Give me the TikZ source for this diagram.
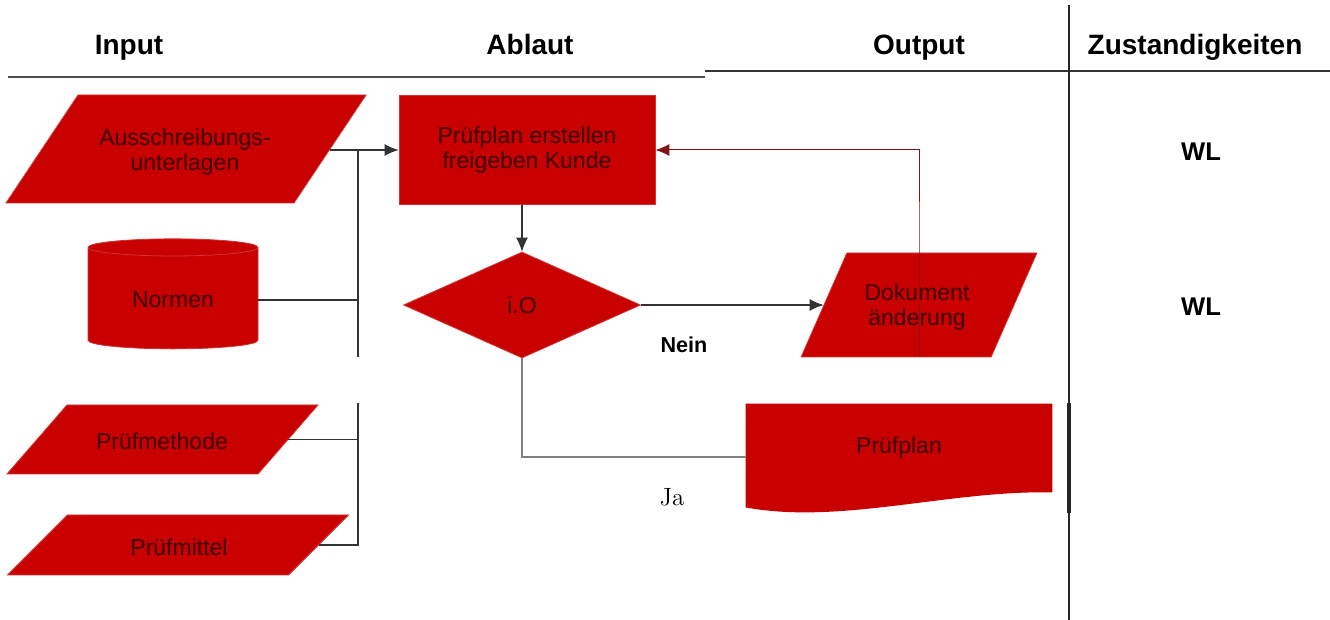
\documentclass[tikz,border=0pt]{standalone}
\usepackage{fontspec}
\setsansfont{Liberation Sans}
\usetikzlibrary{shapes.geometric,arrows.meta,positioning,calc,backgrounds}
\usepackage{xcolor}
\definecolor{boxred}{RGB}{200,0,0}
\definecolor{boxtext}{RGB}{60,0,0}
\definecolor{backred}{RGB}{130,20,20}

\begin{document}
\begin{tikzpicture}[
    x=0.5pt, y=-0.5pt,
    head/.style={anchor=base, font=\sffamily\bfseries\fontsize{14}{16}\selectfont},
    lbl/.style={font=\sffamily\bfseries\fontsize{10.8}{12}\selectfont},
    redtext/.style={text=boxtext, align=center, font=\sffamily\fontsize{11.5}{12.5}\selectfont},
    para/.style={rectangle, fill=boxred, draw=boxred!80!white, inner sep=0pt},
    act/.style={redtext, rectangle, fill=boxred, draw=boxred!80!white},
    link/.style={line width=0.6pt, draw=black!80},
    tip/.style={-{Latex[length=7pt,width=6pt]}}
]
    \useasboundingbox (0,0) rectangle (1330,620);

    % Lane headers
    \node[head] (h1) at (129,55) {Input};
    \node[head] (h2) at (530,55) {Ablaut};
    \node[head] (h3) at (919,55) {Output};
    \node[head] (h4) at (1195,55) {Zustandigkeiten};

    \draw[line width=1pt, black!70] (8,77) -- (705,77);
    \draw[line width=1pt, black!80] (705,71) -- (1330,71);
    \draw[line width=0.9pt, black!85] (1069,5) -- (1069,620);
    \draw[line width=1.6pt, black!85] (1069,403) -- (1069,513);

    % Input
    \node[para, xslant=0.667, minimum width=144pt, minimum height=54pt] (aus) at (186,149) {};
    \node[redtext] (austxt) at (185,152) {Ausschreibungs-\\unterlagen};
    \node[redtext, cylinder, shape border rotate=90, aspect=0.18, fill=boxred, draw=boxred!80!white,
          minimum width=85pt, minimum height=55pt] (norm) at (173,300) {Normen};
    \node[para, xslant=0.87, minimum width=125.5pt, minimum height=34.5pt] (meth) at (162.5,439.5) {};
    \node[redtext] (methtxt) at (162,441) {Pr\"ufmethode};
    \node[para, xslant=1, minimum width=140.5pt, minimum height=30pt] (mitt) at (178,545) {};
    \node[redtext] (mitttxt) at (179,547) {Pr\"ufmittel};

    % Ablauf
    \node[act, minimum width=128pt, minimum height=54.5pt] (plan) at (527,150) {Pr\"ufplan erstellen\\freigeben Kunde};
    \node[redtext, diamond, fill=boxred, draw=boxred!80!white, aspect=2.25,
          minimum width=118.5pt, minimum height=53pt, inner sep=0pt] (dia) at (522,305) {i.O};

    % Output
    \node[para, xslant=0.44, minimum width=95pt, minimum height=52pt] (dok) at (919,305) {};
    \node[redtext] (doktxt) at (917,307) {Dokument\\\"anderung};
    \node[redtext, rectangle, minimum width=153pt, minimum height=44pt] (out) at (899,448) {Pr\"ufplan};
    \begin{scope}[on background layer]
        \fill[boxred] (out.north west) -- (out.north east) -- (out.south east)
            .. controls (950,490) and (840,525) .. ($(out.south west)+(0,15)$) -- cycle;
    \end{scope}

    % Zustaendigkeiten
    \node[lbl, font=\sffamily\bfseries\fontsize{12.8}{14}\selectfont] (wl1) at (1201,152) {WL};
    \node[lbl, font=\sffamily\bfseries\fontsize{12.8}{14}\selectfont] (wl2) at (1201,307) {WL};

    % Connectors
    \coordinate (bustop) at (358,357);
    \coordinate (bus) at (358,403);
    \draw[link, tip] (aus.east |- plan.west) -- (plan.west);
    \draw[link] (bustop) -- (bustop |- plan.west);
    \draw[link] (norm.east) -- (norm.east -| bustop);
    \draw[link] (meth.east) -| (bus);
    \draw[link] (mitt.east) -| (bus);
    \draw[link, tip] (plan.south -| dia.north) -- (dia.north);
    \draw[link, tip] (dia.east) -- (dok.west);
    \node[lbl] (nein) at (684,345) {Nein};
    \draw[line width=0.5pt, backred, tip] (dok.south -| dok.center) -- (dok.north -| dok.center) |- (plan.east);
    \draw[line width=0.9pt, black!50] (dia.south) |- ($(out.west)+(0,9)$);
    \node[font=\rmfamily\fontsize{12.5}{14}\selectfont] (ja) at (672,497) {Ja};
\end{tikzpicture}
\end{document}
